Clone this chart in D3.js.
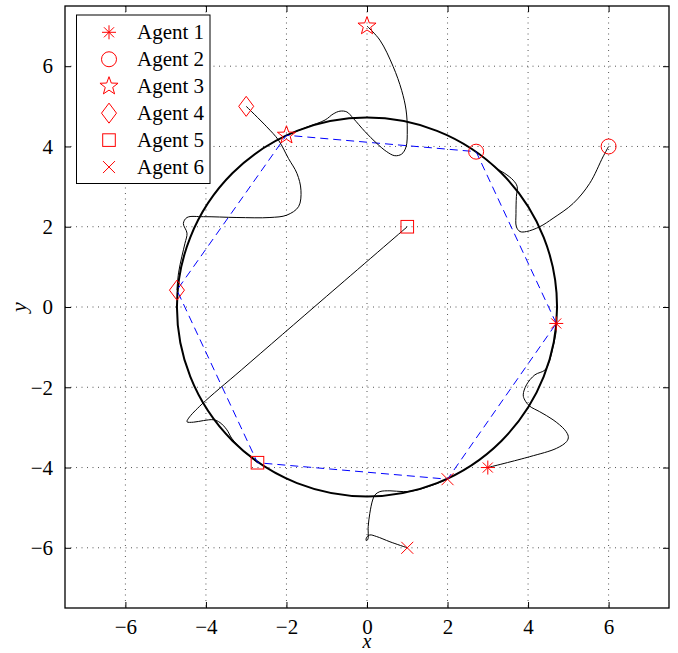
<!DOCTYPE html>
<html>
<head>
<meta charset="utf-8">
<script src="https://cdn.jsdelivr.net/npm/d3@7"></script>
<style>
  html, body { margin: 0; padding: 0; background: #fff; }
  svg { display: block; }
  text { font-family: "Liberation Serif", "Times New Roman", serif; }
</style>
</head>
<body>
<div id="chart"></div>
<script>
// ---------------- data ----------------
const agentNames = ["Agent 1", "Agent 2", "Agent 3", "Agent 4", "Agent 5", "Agent 6"];
const markerTypes = ["asterisk", "circle", "star", "diamond", "square", "cross"];
const startX = [3, 6, 0, -3, 1, 1];
const startY = [-4, 4, 7, 5, 2, -6];
const finalX = [4.70, 2.71, -2.00, -4.72, -2.72, 2.00];
const finalY = [-0.41, 3.87, 4.28, 0.42, -3.88, -4.29];
const circleRadius = 4.72;
const tickValues = [-6, -4, -2, 0, 2, 4, 6];

const traj1 = [[3,-4.0],[4.04,-3.73],[4.71,-3.52],[4.96,-3.35],[5.0,-3.23],[4.91,-3.06],[4.62,-2.81],[4.29,-2.61],[4.04,-2.47],[3.92,-2.32],[3.88,-2.19],[3.96,-1.94],[4.17,-1.69],[4.42,-1.57],[4.54,-1.32],[4.62,-0.99],[4.69,-0.66],[4.70,-0.41]];
const traj2 = [[6,4],[5.86,3.74],[5.53,3.08],[5.12,2.58],[4.62,2.21],[4.29,2.0],[3.96,1.88],[3.8,1.88],[3.71,2.0],[3.70,2.33],[3.71,2.75],[3.73,3.0],[3.63,3.16],[3.42,3.33],[3.22,3.45],[2.95,3.68],[2.71,3.87]];
const traj3 = [[0,7],[0.32,6.65],[0.65,5.99],[0.86,5.4],[0.97,4.91],[1.0,4.41],[0.97,3.99],[0.86,3.81],[0.69,3.77],[0.49,3.87],[0.24,4.08],[-0.05,4.37],[-0.34,4.7],[-0.5,4.86],[-0.67,4.88],[-0.84,4.81],[-1.04,4.66],[-1.5,4.48],[-2.0,4.28]];
const traj4 = [[-3,5],[-2.49,4.49],[-2.2,4.16],[-1.95,3.7],[-1.74,3.33],[-1.64,2.91],[-1.70,2.5],[-1.99,2.29],[-2.41,2.23],[-3.23,2.23],[-4.06,2.25],[-4.47,2.23],[-4.56,2.08],[-4.47,1.84],[-4.52,1.59],[-4.6,1.25],[-4.68,0.85],[-4.72,0.42]];
const traj5 = [[1,2],[-1,0.27],[-3.11,-1.56],[-4.1,-2.42],[-4.43,-2.77],[-4.47,-2.86],[-4.31,-2.87],[-4.06,-2.83],[-3.81,-2.81],[-3.65,-2.88],[-3.48,-3.06],[-3.36,-3.27],[-3.1,-3.56],[-2.72,-3.88]];
const traj6 = [[1,-6],[0.57,-5.85],[0.24,-5.72],[0.07,-5.68],[-0.01,-5.74],[-0.02,-5.82],[0.02,-5.79],[0.03,-5.47],[0.07,-5.14],[0.14,-4.81],[0.2,-4.68],[0.32,-4.6],[0.57,-4.58],[0.9,-4.6],[1.15,-4.58],[1.6,-4.45],[2.0,-4.29]];
const trajectories = [traj1, traj2, traj3, traj4, traj5, traj6];

// ---------------- layout ----------------
const W = 678, H = 653;
const L = 65, R = 669, T = 6, B = 608;
const red = "#ff0000";

const svg = d3.select("#chart").append("svg").attr("width", W).attr("height", H);
svg.append("rect").attr("width", W).attr("height", H).attr("fill", "#fff");

const x = d3.scaleLinear().domain([-7.5, 7.5]).range([L, R]);
const y = d3.scaleLinear().domain([-7.5, 7.5]).range([B, T]);

// grid
const grid = svg.append("g");
grid.selectAll("line.gx").data(tickValues).join("line")
  .attr("x1", d => x(d)).attr("x2", d => x(d)).attr("y1", T).attr("y2", B)
  .attr("stroke", "#555").attr("stroke-width", 1).attr("stroke-dasharray", "1,4.5");
grid.selectAll("line.gy").data(tickValues).join("line")
  .attr("y1", d => y(d)).attr("y2", d => y(d)).attr("x1", L).attr("x2", R)
  .attr("stroke", "#555").attr("stroke-width", 1).attr("stroke-dasharray", "1,4.5");

// circle
svg.append("ellipse")
  .attr("cx", x(0)).attr("cy", y(0))
  .attr("rx", x(circleRadius) - x(0)).attr("ry", y(0) - y(circleRadius))
  .attr("fill", "none").attr("stroke", "#000").attr("stroke-width", 2);

// blue dashed formation polygon
const poly = finalX.map((fx, i) => [fx, finalY[i]]);
svg.append("path")
  .attr("d", d3.line().x(d => x(d[0])).y(d => y(d[1])).curve(d3.curveLinearClosed)(poly))
  .attr("fill", "none").attr("stroke", "#0000ff").attr("stroke-width", 1)
  .attr("stroke-dasharray", "8,5");

// trajectories
const trajLine = d3.line().x(d => x(d[0])).y(d => y(d[1])).curve(d3.curveCatmullRom.alpha(0.5));
svg.append("g").selectAll("path").data(trajectories).join("path")
  .attr("d", d => trajLine(d))
  .attr("fill", "none").attr("stroke", "#000").attr("stroke-width", 1);

// markers
function drawMarker(g, type, cx, cy) {
  const s = g.append("g").attr("transform", `translate(${cx},${cy})`)
    .attr("fill", "none").attr("stroke", red).attr("stroke-width", 1);
  if (type === "asterisk") {
    const r = 7;
    s.append("path").attr("d", `M${-r},0H${r}M0,${-r}V${r}M${-r*0.72},${-r*0.72}L${r*0.72},${r*0.72}M${-r*0.72},${r*0.72}L${r*0.72},${-r*0.72}`);
  } else if (type === "circle") {
    s.append("circle").attr("r", 7.5);
  } else if (type === "star") {
    const pts = [];
    for (let k = 0; k < 10; k++) {
      const a = -Math.PI / 2 + k * Math.PI / 5;
      const rr = k % 2 === 0 ? 9.5 : 3.9;
      pts.push([rr * Math.cos(a), rr * Math.sin(a)]);
    }
    s.append("path").attr("d", "M" + pts.map(p => p.join(",")).join("L") + "Z");
  } else if (type === "diamond") {
    s.append("path").attr("d", "M0,-10L7.5,0L0,10L-7.5,0Z");
  } else if (type === "square") {
    s.append("rect").attr("x", -6.3).attr("y", -6.3).attr("width", 12.6).attr("height", 12.6);
  } else if (type === "cross") {
    const r = 6;
    s.append("path").attr("d", `M${-r},${-r}L${r},${r}M${-r},${r}L${r},${-r}`);
  }
}
const mk = svg.append("g");
for (let i = 0; i < agentNames.length; i++) {
  drawMarker(mk, markerTypes[i], x(startX[i]), y(startY[i]));
  drawMarker(mk, markerTypes[i], x(finalX[i]), y(finalY[i]));
}

// axes (ticks inward on all sides)
const fmt = d => (d < 0 ? "\u2212" + Math.abs(d) : "" + d);
const axB = svg.append("g").attr("transform", `translate(0,${B})`)
  .call(d3.axisBottom(x).tickValues(tickValues).tickSize(-6).tickPadding(11).tickFormat(fmt));
const axT = svg.append("g").attr("transform", `translate(0,${T})`)
  .call(d3.axisTop(x).tickValues(tickValues).tickSize(-6).tickFormat(""));
const axL = svg.append("g").attr("transform", `translate(${L},0)`)
  .call(d3.axisLeft(y).tickValues(tickValues).tickSize(-6).tickPadding(12).tickFormat(fmt));
const axR = svg.append("g").attr("transform", `translate(${R},0)`)
  .call(d3.axisRight(y).tickValues(tickValues).tickSize(-6).tickFormat(""));
[axB, axT, axL, axR].forEach(a => {
  a.select(".domain").remove();
  a.selectAll(".tick line").attr("stroke", "#000").attr("stroke-width", 1);
  a.selectAll(".tick text").attr("font-family", "Liberation Serif, serif").attr("font-size", 21).attr("fill", "#000");
});
svg.append("rect").attr("x", L).attr("y", T).attr("width", R - L).attr("height", B - T)
  .attr("fill", "none").attr("stroke", "#000").attr("stroke-width", 1.3);

// axis labels
svg.append("text").attr("x", x(0)).attr("y", 648).attr("text-anchor", "middle")
  .attr("font-size", 20).attr("font-style", "italic").text("x");
svg.append("text").attr("transform", `translate(26,${y(0)}) rotate(-90)`).attr("text-anchor", "middle")
  .attr("font-size", 22).attr("font-style", "italic").text("y");

// legend
const lg = svg.append("g");
lg.append("rect").attr("x", 76.5).attr("y", 15).attr("width", 133.5).attr("height", 168.5)
  .attr("fill", "#fff").attr("stroke", "#000").attr("stroke-width", 1);
agentNames.forEach((name, i) => {
  const cy = 32.3 + 26.95 * i;
  drawMarker(lg, markerTypes[i], 109, cy);
  lg.append("text").attr("x", 137).attr("y", cy + 7).attr("font-size", 21).attr("fill", "#000").text(name);
});
</script>
</body>
</html>
